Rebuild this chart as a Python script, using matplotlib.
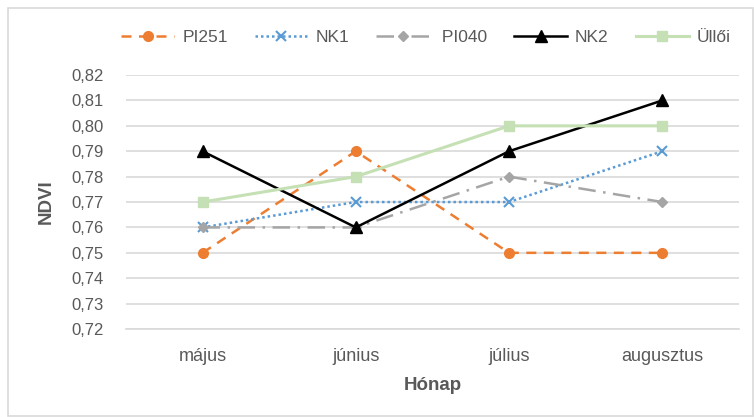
import numpy as np
import matplotlib
matplotlib.use('Agg')
from matplotlib import pyplot as plt
from matplotlib.ticker import FuncFormatter, MultipleLocator
from matplotlib.patches import Rectangle

plt.rcParams['font.family'] = ['Liberation Sans', 'DejaVu Sans']

months = ['május', 'június', 'július', 'augusztus']
pi251 = [0.75, 0.79, 0.75, 0.75]
nk1 = [0.76, 0.77, 0.77, 0.79]
pi040 = [0.76, 0.76, 0.78, 0.77]
nk2 = [0.79, 0.76, 0.79, 0.81]
ulloi = [0.77, 0.78, 0.80, 0.80]

txt = '#595959'
fig = plt.figure(figsize=(7.54, 4.17), dpi=100)
ax = fig.add_axes([0.167, 0.211, 0.813, 0.609])

x = np.arange(len(months))
ax.plot(x, pi251, color='#ED7D31', ls=(0, (4, 3)), lw=1.8, marker='o', ms=7, label='PI251')
ax.plot(x, nk1, color='#5B9BD5', ls=(0, (1, 1.2)), lw=1.8, marker='x', ms=7, mew=1.5, label='NK1')
ax.plot(x, pi040, color='#A5A5A5', ls=(0, (7, 3, 1, 3)), lw=1.8, marker='D', ms=5.5, label=' PI040')
ax.plot(x, nk2, color='black', lw=1.8, marker='^', ms=8, label='NK2')
ax.plot(x, ulloi, color='#C5E0B4', lw=2.2, marker='s', ms=7, label='Üllői')

ax.set_xlim(-0.5, 3.5)
ax.set_ylim(0.72, 0.82)
ax.yaxis.set_major_locator(MultipleLocator(0.01))
ax.yaxis.set_major_formatter(FuncFormatter(lambda v, p: f'{v:.2f}'.replace('.', ',')))
ax.set_xticks(x)
ax.set_xticklabels(months)
ax.grid(axis='y', color='#D9D9D9', lw=1.2)
ax.set_axisbelow(True)
for s in ['top', 'right', 'left']:
    ax.spines[s].set_visible(False)
ax.spines['bottom'].set_color('#D9D9D9')
ax.spines['bottom'].set_linewidth(1.2)
ax.tick_params(length=0, colors=txt)
ax.tick_params(axis='y', labelsize=12, pad=16)
ax.tick_params(axis='x', labelsize=13, pad=14)

ax.set_xlabel('Hónap', fontsize=13.5, fontweight='bold', color=txt, labelpad=8)
ax.set_ylabel('NDVI', fontsize=13.5, fontweight='bold', color=txt, labelpad=12)

fig.legend(loc='center', bbox_to_anchor=(0.565, 0.911), ncol=5, frameon=False,
           fontsize=12.5, handlelength=3.05, handletextpad=0.45, columnspacing=1.56,
           labelcolor=txt)

fig.patches.append(Rectangle((8/754, 0.002), 1 - 9/754, 1 - 8/417 - 0.002, transform=fig.transFigure,
                             fill=False, edgecolor='#D9D9D9', lw=1.2))

fig.savefig('out.png', dpi=100)
